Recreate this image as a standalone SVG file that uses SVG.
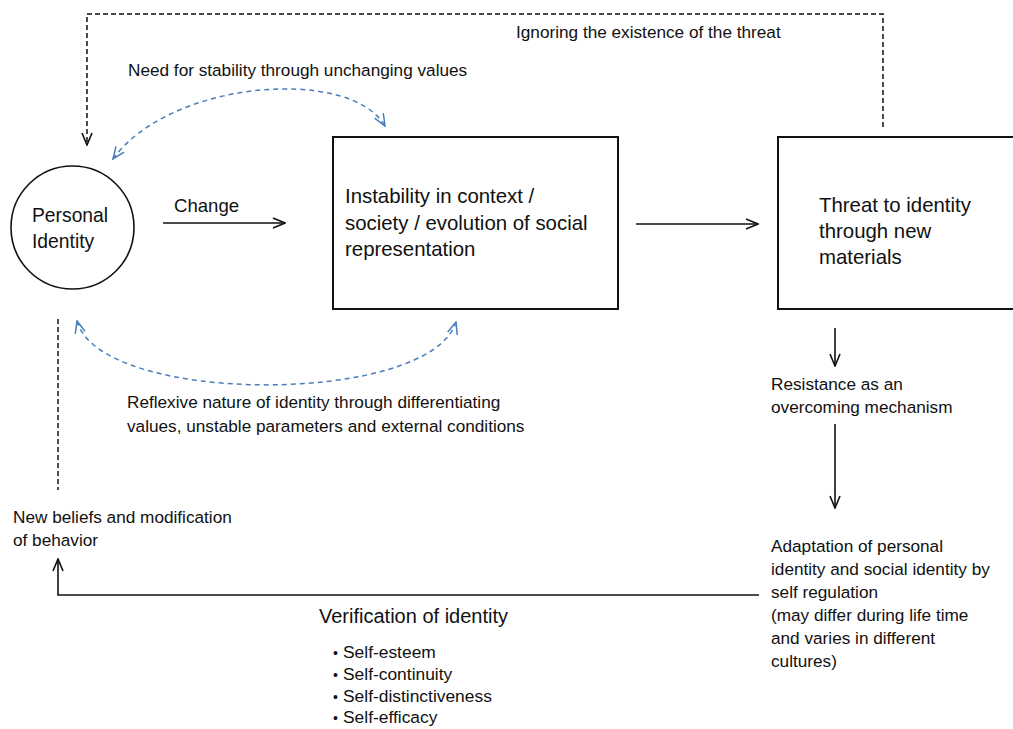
<svg xmlns="http://www.w3.org/2000/svg" width="1013" height="729" viewBox="0 0 1013 729">
<style>
text{font-family:"Liberation Sans",Arial,sans-serif;fill:#111;}
.node{fill:#fff;stroke:#111;stroke-width:2;}
.lbl{font-size:17.2px;}
.big{font-size:20.4px;}
.ln{fill:none;stroke:#111;stroke-width:1.6;}
.dash{fill:none;stroke:#111;stroke-width:1.5;stroke-dasharray:5,3;}
.blue{fill:none;stroke:#4a7ebb;stroke-width:1.5;stroke-dasharray:5,4;}
</style>
<defs>
<marker id="ah" markerUnits="userSpaceOnUse" viewBox="0 0 14 12" markerWidth="14" markerHeight="12" refX="13" refY="6" orient="auto">
<path d="M1,1 L13,6 L1,11" fill="none" stroke="#111" stroke-width="1.6"/>
</marker>
<marker id="bh" markerUnits="userSpaceOnUse" viewBox="0 0 14 12" markerWidth="14" markerHeight="12" refX="13" refY="6" orient="auto-start-reverse">
<path d="M1,1 L13,6 L1,11" fill="none" stroke="#4a7ebb" stroke-width="1.5"/>
</marker>
</defs>

<g id="connectors">
<path class="dash" d="M883,127 V14 H87 V145" marker-end="url(#ah)"/>
<path class="dash" d="M58,319 V490"/>
<path class="ln" d="M163,223 H285" marker-end="url(#ah)"/>
<path class="ln" d="M636,224 H758" marker-end="url(#ah)"/>
<path class="ln" d="M835,328 V366" marker-end="url(#ah)"/>
<path class="ln" d="M835,424 V508" marker-end="url(#ah)"/>
<path class="ln" d="M759,595 H58 V559" stroke-width="2" marker-end="url(#ah)"/>
<path class="blue" d="M113,159 C170,80 350,66 385,126" marker-start="url(#bh)" marker-end="url(#bh)"/>
<path class="blue" d="M77,321 C100,406 430,406 456,322" marker-start="url(#bh)" marker-end="url(#bh)"/>
</g>

<g id="personal-identity">
<circle cx="72.5" cy="227.5" r="61.5" fill="#fff" stroke="#111" stroke-width="1.6"/>
<text x="32" y="222" font-size="19.3">Personal</text>
<text x="32" y="248" font-size="19.3">Identity</text>
</g>

<g id="instability">
<rect class="node" x="333" y="137" width="285" height="172"/>
<text class="big" x="345" y="203">Instability in context /</text>
<text class="big" x="345" y="230">society / evolution of social</text>
<text class="big" x="345" y="256">representation</text>
</g>

<g id="threat">
<rect class="node" x="778" y="137" width="250" height="172"/>
<text class="big" x="819" y="212">Threat to identity</text>
<text class="big" x="819" y="238">through new</text>
<text class="big" x="819" y="264">materials</text>
</g>

<g id="label-change">
<text x="174" y="212" font-size="18.6">Change</text>
</g>

<g id="label-ignoring">
<text class="lbl" x="516" y="38">Ignoring the existence of the threat</text>
</g>

<g id="label-stability">
<text class="lbl" x="128" y="76">Need for stability through unchanging values</text>
</g>

<g id="label-reflexive">
<text class="lbl" x="127" y="408">Reflexive nature of identity through differentiating</text>
<text class="lbl" x="127" y="432">values, unstable parameters and external conditions</text>
</g>

<g id="resistance">
<text class="lbl" x="771" y="390">Resistance as an</text>
<text class="lbl" x="771" y="413">overcoming mechanism</text>
</g>

<g id="adaptation">
<text class="lbl" x="771" y="552">Adaptation of personal</text>
<text class="lbl" x="771" y="575">identity and social identity by</text>
<text class="lbl" x="771" y="598">self regulation</text>
<text class="lbl" x="771" y="621">(may differ during life time</text>
<text class="lbl" x="771" y="644">and varies in different</text>
<text class="lbl" x="771" y="667">cultures)</text>
</g>

<g id="new-beliefs">
<text class="lbl" x="13" y="523">New beliefs and modification</text>
<text class="lbl" x="13" y="546">of behavior</text>
</g>

<g id="verification">
<text x="319" y="623" font-size="20">Verification of identity</text>
<text x="333" y="658" font-size="17.4"><tspan font-size="14">•</tspan><tspan x="343">Self-esteem</tspan></text>
<text x="333" y="680" font-size="17.4"><tspan font-size="14">•</tspan><tspan x="343">Self-continuity</tspan></text>
<text x="333" y="702" font-size="17.4"><tspan font-size="14">•</tspan><tspan x="343">Self-distinctiveness</tspan></text>
<text x="333" y="723" font-size="17.4"><tspan font-size="14">•</tspan><tspan x="343">Self-efficacy</tspan></text>
</g>
</svg>
